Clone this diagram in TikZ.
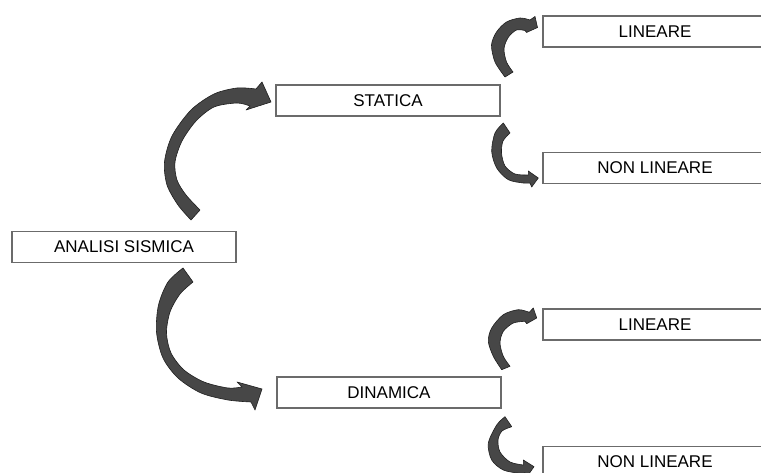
\documentclass[tikz,border=0pt]{standalone}
\usepackage{fontspec}
\setmainfont{Liberation Sans}
\begin{document}
\begin{tikzpicture}[x=1pt,y=-1pt,
  box/.style={draw=black!58, line width=1.4pt, fill=white, minimum width=224pt,
    minimum height=31pt, inner sep=0pt, font=\fontsize{17}{20}\selectfont, text=black},
  barrow/.style={fill=black!72, draw=black!88, line width=0.6pt, line join=round}]
\fill[white] (0,0) rectangle (761,473);
\useasboundingbox (0,0) rectangle (761,473);
\clip (0,0) rectangle (761,473);

% big arrow to STATICA
\path[barrow] (191,220) -- plot[smooth] coordinates {(191,220) (178,205) (167,185) (164.5,162) (172,136) (191,110) (214,94) (237,88) (256,89)}
  -- (262,82) -- (271,102) -- (246,110) -- (250,106)
  -- plot[smooth] coordinates {(250,106) (237,103) (214,107) (196,121) (182,141) (175,162) (177,180) (186,195) (200,210)} -- cycle;
% big arrow to DINAMICA
\path[barrow] (183,268) -- plot[smooth] coordinates {(183,268) (168,282) (158.5,305) (156.5,332) (163,358) (178,378) (201,393) (228,400) (251,402)}
  -- (255,410) -- (262,389) -- (237,382) -- (242,387)
  -- plot[smooth] coordinates {(242,387) (228,388) (204,382) (184,370) (171,353) (166.5,333) (170,312) (180,294) (193,282)} -- cycle;
% small arrows
\path[barrow] (505,77) -- plot[smooth] coordinates {(505,77) (495,62) (491.5,45) (496.5,32) (506.5,22) (520,18) (530,20)}
  -- (535,16.5) -- (537.5,27.5) -- (526.5,32.5) -- (525,30.5)
  -- plot[smooth] coordinates {(525,30.5) (516.5,30) (508.5,37) (504,48.5) (506.5,62) (513,72)} -- cycle;
\path[barrow] (503.3,123) -- plot[smooth] coordinates {(503.3,123) (495,133) (491.7,151.3) (496.7,168) (508.3,179.7) (523.3,183) (530,183)}
  -- (531.7,187) -- (538.3,178) -- (528.3,171) -- (528.3,175)
  -- plot[smooth] coordinates {(528.3,175) (515,174) (505,166) (501.5,153) (503,141) (510,133)} -- cycle;
\path[barrow] (501.7,369.7) -- plot[smooth] coordinates {(501.7,369.7) (493.3,356.3) (488.3,341.3) (491.7,328) (503.3,314.7) (518.3,309.7) (529.3,312.3)}
  -- (533.3,308) -- (536.7,318) -- (526.7,323.7) -- (525,321.3)
  -- plot[smooth] coordinates {(525,321.3) (513.3,323) (503.3,331.3) (500,343) (503.3,356.3) (510,366.3)} -- cycle;
\path[barrow] (505,416.7) -- plot[smooth] coordinates {(505,416.7) (496.7,425) (488.3,443.3) (491.7,460) (503.3,470) (520,473.3) (525,472.7)}
  -- (526.7,477) -- (534,466.7) -- (523.3,460) -- (523.3,465)
  -- plot[smooth] coordinates {(523.3,465) (510,462) (500,452) (498,440) (502,431) (511.7,426.7)} -- cycle;

\node[box] (an) at (124,247) {ANALISI SISMICA};
\node[box] (st) at (388,100.5) {STATICA};
\node[box] (di) at (389,392.5) {DINAMICA};
\node[box] (l1) at (655,31.5) {LINEARE};
\node[box] (n1) at (655,168) {NON LINEARE};
\node[box] (l2) at (655,324.5) {LINEARE};
\node[box] (n2) at (655,462) {NON LINEARE};
\end{tikzpicture}
\end{document}
